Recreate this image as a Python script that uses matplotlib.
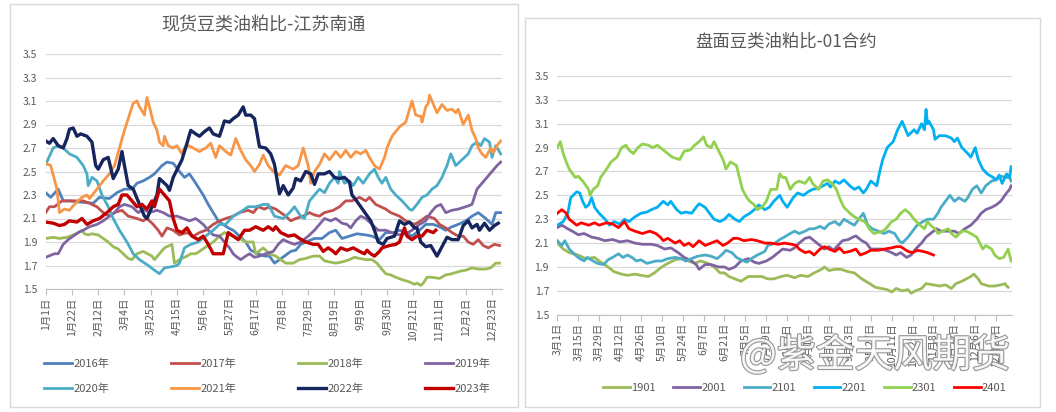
import matplotlib
matplotlib.use('Agg')
import matplotlib.pyplot as plt
import matplotlib.patheffects as pe
from matplotlib.patches import Rectangle
import pandas as pd

plt.rcParams['font.family'] = ['Noto Sans CJK SC', 'DejaVu Sans']

# ---- left chart: spot ratio, x = day of year (from 1 Jan) ----
left_title = "现货豆类油粕比-江苏南通"
left_names = ["2016年", "2017年", "2018年", "2019年", "2020年", "2021年", "2022年", "2023年"]
left_colors = ["#4F81BD", "#C0504D", "#9BBB59", "#8064A2", "#4BACC6", "#F79646", "#17255E", "#C00000"]

y2016 = [(0,2.32),(4,2.28),(10,2.35),(14,2.25),(19,2.25),(27,2.24),(38,2.23),(43,2.28),(51,2.27),(57,2.32),(63,2.35),(69,2.35),(73,2.40),(78,2.42),(83,2.45),(87,2.48),(93,2.55),(97,2.58),(102,2.57),(107,2.50),(111,2.45),(115,2.48),(120,2.40),(126,2.30),(130,2.22),(134,2.15),(138,2.08),(142,2.05),(146,2.02),(150,2.00),(155,1.95),(160,1.90),(164,1.83),(170,1.80),(175,1.78),(179,1.78),(183,1.72),(187,1.75),(191,1.78),(196,1.82),(200,1.83),(204,1.88),(208,1.90),(215,1.93),(221,1.93),(227,1.98),(232,2.00),(237,1.93),(243,1.95),(249,1.97),(256,1.96),(261,1.95),(267,1.92),(272,1.98),(279,1.98),(283,2.00),(288,1.98),(293,1.95),(299,2.00),(304,2.05),(310,2.05),(315,2.03),(320,2.00),(325,2.03),(330,2.05),(336,2.08),(341,2.12),(346,2.15),(352,2.10),(357,2.05),(360,2.15),(364,2.15)]
y2017 = [(0,2.15),(3,2.20),(7,2.20),(13,2.25),(22,2.25),(30,2.25),(35,2.23),(41,2.20),(46,2.15),(51,2.12),(55,2.15),(61,2.17),(66,2.12),(73,2.10),(78,2.08),(81,2.10),(86,2.05),(90,2.00),(93,1.95),(97,2.02),(102,2.00),(107,1.96),(113,1.98),(118,1.95),(123,1.98),(128,2.00),(134,2.05),(139,2.08),(144,2.10),(150,2.12),(155,2.15),(162,2.17),(166,2.15),(170,2.20),(175,2.18),(179,2.20),(184,2.18),(188,2.15),(192,2.12),(196,2.08),(200,2.10),(206,2.12),(211,2.15),(215,2.13),(219,2.12),(223,2.15),(230,2.17),(235,2.20),(240,2.25),(245,2.25),(251,2.28),(256,2.25),(259,2.28),(264,2.22),(272,2.18),(276,2.15),(283,2.12),(288,2.08),(295,2.05),(300,2.08),(305,2.12),(311,2.10),(315,2.05),(320,2.02),(325,1.98),(330,1.95),(334,1.95),(338,1.90),(342,1.88),(346,1.92),(350,1.87),(354,1.85),(359,1.88),(363,1.87)]
y2018 = [(0,1.93),(6,1.94),(11,1.93),(17,1.94),(22,1.96),(26,1.98),(29,2.00),(31,1.97),(34,1.96),(37,1.97),(42,1.96),(46,1.93),(50,1.90),(54,1.86),(58,1.84),(62,1.80),(66,1.76),(69,1.75),(73,1.80),(78,1.82),(85,1.78),(87,1.75),(91,1.80),(95,1.85),(101,1.88),(103,1.72),(107,1.75),(113,1.78),(116,1.80),(120,1.80),(123,1.82),(127,1.85),(134,1.90),(139,1.95),(143,1.98),(150,1.95),(155,1.93),(160,1.90),(166,1.90),(168,1.80),(174,1.85),(179,1.80),(184,1.78),(188,1.75),(192,1.72),(198,1.72),(203,1.75),(208,1.76),(214,1.78),(219,1.78),(223,1.74),(227,1.73),(232,1.72),(237,1.73),(243,1.75),(247,1.77),(251,1.76),(256,1.75),(261,1.75),(265,1.72),(268,1.68),(272,1.63),(276,1.62),(280,1.60),(285,1.58),(291,1.56),(295,1.54),(297,1.55),(300,1.53),(302,1.55),(305,1.60),(309,1.60),(315,1.59),(320,1.62),(325,1.63),(331,1.65),(336,1.66),(341,1.68),(346,1.67),(352,1.67),(356,1.68),(360,1.72),(363,1.72)]
y2019 = [(0,1.77),(7,1.80),(10,1.80),(14,1.88),(18,1.92),(22,1.95),(26,1.98),(30,2.00),(35,2.03),(41,2.05),(46,2.08),(51,2.12),(55,2.15),(59,2.20),(63,2.22),(69,2.20),(74,2.15),(78,2.18),(83,2.15),(89,2.17),(94,2.15),(99,2.12),(105,2.12),(110,2.10),(115,2.08),(120,2.10),(126,2.05),(130,2.00),(134,1.96),(139,1.95),(143,1.90),(147,1.85),(150,1.80),(152,1.78),(156,1.75),(160,1.78),(163,1.80),(167,1.77),(171,1.78),(176,1.80),(182,1.82),(186,1.88),(190,1.92),(194,1.90),(199,1.88),(204,1.90),(210,1.95),(215,2.00),(219,2.05),(223,2.10),(228,2.08),(232,2.10),(237,2.06),(241,2.05),(244,2.02),(248,2.08),(252,2.12),(256,2.10),(261,2.05),(266,2.00),(272,2.00),(277,1.98),(283,1.96),(288,1.97),(293,2.00),(299,2.05),(304,2.08),(308,2.15),(312,2.20),(316,2.22),(320,2.15),(325,2.17),(330,2.18),(336,2.20),(341,2.22),(345,2.35),(349,2.40),(353,2.45),(357,2.50),(361,2.55),(364,2.58)]
y2020 = [(0,2.56),(6,2.70),(10,2.72),(14,2.70),(19,2.65),(25,2.62),(30,2.55),(33,2.48),(34,2.38),(37,2.45),(41,2.42),(45,2.30),(50,2.20),(54,2.10),(59,2.00),(65,1.90),(70,1.80),(75,1.75),(82,1.70),(87,1.66),(91,1.63),(95,1.68),(101,1.69),(105,1.70),(107,1.72),(111,1.85),(116,1.88),(122,1.90),(128,1.95),(134,2.00),(139,2.05),(144,2.05),(150,2.12),(155,2.15),(162,2.20),(168,2.20),(174,2.22),(178,2.22),(183,2.12),(190,2.10),(195,2.15),(199,2.20),(204,2.12),(207,2.10),(211,2.25),(215,2.30),(219,2.35),(223,2.32),(227,2.40),(231,2.45),(234,2.40),(235,2.50),(239,2.40),(243,2.42),(246,2.38),(250,2.45),(254,2.40),(259,2.48),(263,2.52),(266,2.45),(269,2.40),(272,2.45),(276,2.35),(280,2.30),(285,2.25),(291,2.18),(293,2.17),(297,2.22),(301,2.28),(305,2.30),(309,2.35),(313,2.38),(317,2.45),(321,2.55),(324,2.65),(328,2.55),(333,2.60),(338,2.65),(341,2.72),(345,2.75),(348,2.72),(351,2.78),(355,2.75),(357,2.62),(360,2.72),(364,2.65)]
y2021 = [(0,2.57),(4,2.55),(9,2.35),(11,2.15),(15,2.18),(19,2.17),(23,2.22),(29,2.28),(33,2.30),(35,2.27),(41,2.35),(46,2.42),(51,2.48),(55,2.55),(59,2.70),(63,2.85),(66,2.95),(70,3.08),(73,3.10),(75,3.05),(78,3.00),(79,2.98),(81,3.13),(83,3.05),(86,2.92),(89,2.85),(91,2.75),(94,2.72),(95,2.80),(98,2.72),(102,2.70),(105,2.72),(109,2.65),(111,2.70),(114,2.72),(118,2.70),(123,2.67),(128,2.70),(132,2.74),(136,2.62),(139,2.72),(144,2.67),(148,2.64),(152,2.78),(156,2.68),(160,2.60),(164,2.55),(167,2.50),(171,2.56),(174,2.64),(178,2.55),(182,2.50),(187,2.47),(192,2.55),(198,2.52),(202,2.55),(206,2.70),(210,2.55),(212,2.40),(215,2.50),(219,2.56),(223,2.65),(227,2.60),(232,2.67),(236,2.62),(240,2.68),(244,2.62),(248,2.67),(252,2.65),(256,2.68),(259,2.62),(263,2.55),(267,2.52),(271,2.62),(273,2.70),(277,2.80),(283,2.88),(288,2.92),(293,3.10),(296,2.98),(300,2.97),(301,2.92),(304,3.05),(306,3.08),(307,3.15),(311,3.05),(313,3.00),(317,3.07),(321,3.02),(325,3.03),(328,3.00),(330,3.03),(334,2.90),(338,2.98),(341,2.85),(344,2.78),(346,2.70),(349,2.65),(352,2.62),(356,2.70),(358,2.66),(361,2.72),(364,2.76)]
y2022 = [(0,2.76),(3,2.74),(6,2.78),(10,2.72),(14,2.70),(17,2.78),(19,2.86),(22,2.87),(25,2.80),(28,2.82),(33,2.80),(37,2.75),(40,2.55),(42,2.52),(46,2.60),(50,2.62),(54,2.44),(58,2.52),(61,2.67),(63,2.55),(66,2.38),(70,2.35),(75,2.22),(79,2.12),(81,2.10),(85,2.20),(89,2.30),(91,2.44),(97,2.38),(99,2.34),(102,2.45),(109,2.60),(113,2.74),(116,2.85),(120,2.82),(123,2.80),(127,2.84),(131,2.87),(134,2.82),(139,2.80),(143,2.93),(147,2.92),(150,2.95),(154,2.98),(158,3.05),(160,2.98),(164,2.98),(167,2.95),(171,2.71),(176,2.70),(180,2.65),(183,2.56),(187,2.31),(190,2.38),(194,2.30),(198,2.36),(200,2.44),(204,2.42),(208,2.50),(212,2.48),(215,2.39),(218,2.48),(223,2.48),(227,2.50),(231,2.45),(235,2.44),(239,2.45),(243,2.41),(245,2.30),(248,2.26),(252,2.20),(256,2.14),(260,2.08),(263,2.00),(266,1.90),(270,1.88),(273,1.93),(279,1.95),(283,2.08),(287,2.05),(291,2.07),(295,2.02),(297,2.02),(300,1.90),(304,1.86),(308,1.87),(313,1.78),(317,1.86),(321,1.94),(325,1.92),(330,1.92),(334,2.04),(338,2.08),(341,2.02),(345,2.05),(347,2.00),(351,2.06),(355,2.00),(359,2.04),(362,2.06)]
y2023 = [(0,2.07),(6,2.06),(11,2.04),(15,2.05),(19,2.08),(25,2.07),(29,2.10),(33,2.05),(38,2.08),(43,2.10),(49,2.15),(54,2.20),(58,2.22),(61,2.30),(65,2.30),(69,2.25),(73,2.20),(77,2.22),(81,2.18),(85,2.25),(87,2.20),(91,2.35),(95,2.30),(99,2.25),(102,2.10),(105,2.00),(109,1.98),(113,2.02),(117,1.95),(122,1.92),(126,1.95),(130,1.88),(134,1.80),(139,1.80),(142,1.80),(146,1.98),(150,1.95),(154,1.92),(159,2.00),(163,2.00),(168,2.03),(174,2.00),(178,2.03),(182,2.00),(184,2.03),(188,1.98),(194,1.95),(199,1.96),(203,1.93),(208,1.90),(214,1.88),(218,1.88),(222,1.82),(226,1.85),(230,1.82),(232,1.80),(236,1.85),(241,1.83),(246,1.85),(251,1.82),(255,1.80),(257,1.83),(260,1.80),(263,1.78),(267,1.82),(269,1.85),(275,1.87),(280,1.88),(283,1.90),(287,2.02),(289,1.95),(293,1.92),(297,1.95),(301,1.95),(305,2.00),(310,1.98),(312,2.00)]
left_series = [y2016, y2017, y2018, y2019, y2020, y2021, y2022, y2023]
left_widths = [2.0, 2.0, 2.0, 2.0, 2.0, 2.0, 2.4, 2.4]

# ---- right chart: futures ratio, 01 contracts, x = days from 1 Mar ----
right_title = "盘面豆类油粕比-01合约"
right_names = ["1901", "2001", "2101", "2201", "2301", "2401"]
right_colors = ["#9BBB59", "#8064A2", "#4BACC6", "#00B0F0", "#92D050", "#FF0000"]

c1901 = [(0,2.10),(4,2.05),(8,2.02),(14,2.00),(19,1.97),(25,1.98),(28,1.95),(34,1.90),(38,1.86),(43,1.84),(47,1.83),(52,1.84),(56,1.83),(61,1.82),(65,1.85),(70,1.90),(74,1.93),(79,1.96),(83,1.97),(88,1.95),(92,1.93),(96,1.95),(101,1.93),(105,1.90),(109,1.85),(112,1.85),(115,1.82),(119,1.80),(123,1.78),(128,1.82),(132,1.82),(137,1.82),(141,1.80),(145,1.80),(150,1.82),(154,1.83),(159,1.81),(163,1.83),(168,1.82),(172,1.85),(177,1.88),(179,1.90),(182,1.87),(186,1.88),(190,1.88),(195,1.86),(199,1.85),(204,1.80),(208,1.77),(213,1.73),(217,1.72),(221,1.71),(224,1.69),(227,1.72),(231,1.70),(235,1.71),(237,1.68),(240,1.70),(244,1.72),(247,1.76),(252,1.75),(256,1.74),(260,1.75),(264,1.72),(267,1.76),(271,1.78),(274,1.80),(277,1.82),(279,1.84),(282,1.80),(284,1.76),(289,1.74),(293,1.74),(297,1.75),(300,1.76),(301,1.74),(302,1.73)]
c2001 = [(0,2.23),(3,2.25),(7,2.22),(10,2.20),(14,2.17),(18,2.18),(23,2.15),(27,2.14),(32,2.12),(37,2.13),(42,2.11),(47,2.12),(52,2.10),(57,2.09),(63,2.09),(67,2.08),(72,2.05),(76,2.06),(81,2.02),(85,1.98),(90,1.95),(93,1.92),(95,1.88),(99,1.92),(103,1.92),(108,1.90),(112,1.90),(115,1.88),(119,1.90),(123,1.95),(128,1.97),(132,1.94),(135,1.93),(140,1.95),(144,1.98),(148,2.02),(151,2.05),(156,2.04),(159,2.06),(162,2.10),(166,2.14),(169,2.15),(172,2.12),(176,2.08),(179,2.05),(182,2.07),(185,2.04),(188,2.08),(191,2.12),(195,2.13),(198,2.15),(200,2.16),(204,2.12),(207,2.10),(210,2.05),(214,2.05),(217,2.05),(220,2.04),(224,2.02),(227,2.00),(230,2.02),(234,1.98),(237,2.00),(240,2.05),(244,2.10),(247,2.15),(250,2.18),(254,2.22),(257,2.20),(261,2.20),(266,2.20),(269,2.18),(273,2.22),(277,2.25),(281,2.30),(284,2.35),(287,2.38),(291,2.40),(294,2.42),(297,2.45),(301,2.52),(303,2.55),(304,2.58)]
c2101 = [(0,2.12),(3,2.08),(5,2.12),(8,2.05),(12,2.00),(15,1.97),(18,1.95),(20,1.98),(24,1.95),(27,1.93),(31,1.92),(34,1.96),(37,1.98),(41,2.01),(44,1.98),(47,2.00),(50,1.98),(53,1.95),(56,1.96),(60,1.93),(63,1.94),(66,1.95),(70,1.95),(74,1.97),(79,1.98),(83,1.97),(86,1.95),(90,1.97),(94,1.99),(99,2.00),(103,1.99),(107,1.97),(110,2.00),(113,2.04),(117,2.02),(120,1.98),(123,1.96),(127,1.94),(130,1.97),(134,2.00),(139,2.03),(141,2.08),(146,2.10),(149,2.13),(152,2.15),(156,2.18),(159,2.20),(162,2.18),(166,2.20),(169,2.22),(172,2.22),(176,2.24),(179,2.22),(182,2.26),(186,2.28),(189,2.25),(192,2.30),(196,2.27),(199,2.25),(202,2.30),(205,2.35),(208,2.25),(211,2.22),(215,2.20),(219,2.18),(222,2.20),(226,2.18),(229,2.12),(231,2.10),(235,2.15),(238,2.20),(241,2.25),(245,2.28),(248,2.30),(252,2.30),(255,2.35),(257,2.40),(260,2.45),(263,2.50),(266,2.45),(269,2.48),(273,2.45),(275,2.48),(278,2.55),(281,2.58),(284,2.52),(287,2.58),(291,2.62),(294,2.63),(297,2.66),(301,2.65),(303,2.65),(304,2.62)]
c2201 = [(0,2.25),(4,2.28),(7,2.35),(9,2.48),(13,2.53),(15,2.52),(17,2.45),(19,2.40),(21,2.42),(23,2.48),(25,2.40),(28,2.35),(32,2.30),(35,2.25),(38,2.28),(42,2.26),(45,2.30),(48,2.28),(52,2.32),(56,2.35),(60,2.36),(63,2.38),(67,2.40),(71,2.45),(74,2.42),(76,2.45),(80,2.38),(83,2.35),(86,2.36),(90,2.35),(93,2.40),(95,2.43),(99,2.40),(102,2.35),(105,2.30),(109,2.28),(112,2.30),(115,2.34),(119,2.30),(122,2.28),(125,2.32),(129,2.35),(132,2.38),(135,2.42),(139,2.38),(142,2.40),(145,2.45),(149,2.50),(151,2.45),(154,2.40),(158,2.48),(161,2.52),(165,2.50),(168,2.53),(171,2.55),(175,2.56),(178,2.58),(181,2.60),(183,2.57),(186,2.62),(189,2.60),(192,2.63),(196,2.58),(199,2.55),(202,2.57),(205,2.52),(207,2.55),(210,2.62),(214,2.58),(216,2.70),(218,2.80),(221,2.90),(225,2.95),(228,3.05),(231,3.12),(235,3.00),(239,3.05),(241,3.02),(244,3.10),(246,3.05),(247,3.22),(248,3.10),(249,3.12),(252,3.05),(253,2.97),(256,3.00),(260,3.00),(264,2.98),(266,2.95),(268,2.98),(271,2.90),(275,2.85),(277,2.82),(280,2.90),(282,2.80),(285,2.72),(288,2.68),(292,2.65),(294,2.63),(296,2.67),(298,2.60),(301,2.68),(303,2.65),(304,2.74)]
c2301 = [(0,2.90),(2,2.95),(4,2.85),(6,2.78),(8,2.72),(12,2.65),(14,2.66),(17,2.62),(21,2.55),(22,2.50),(24,2.55),(27,2.58),(29,2.65),(33,2.72),(36,2.78),(40,2.82),(43,2.90),(46,2.92),(48,2.88),(51,2.85),(54,2.90),(57,2.93),(61,2.92),(64,2.90),(67,2.92),(71,2.88),(74,2.85),(77,2.82),(82,2.80),(85,2.87),(89,2.88),(92,2.92),(95,2.95),(98,2.99),(100,2.92),(103,2.90),(105,2.95),(109,2.85),(111,2.80),(113,2.72),(116,2.78),(120,2.75),(122,2.65),(124,2.55),(127,2.48),(129,2.45),(132,2.42),(134,2.38),(137,2.40),(140,2.45),(143,2.55),(147,2.55),(149,2.68),(151,2.65),(153,2.65),(156,2.55),(159,2.60),(162,2.62),(166,2.60),(169,2.65),(171,2.60),(175,2.55),(178,2.62),(181,2.63),(184,2.60),(187,2.55),(189,2.48),(192,2.40),(196,2.35),(199,2.32),(202,2.30),(206,2.28),(209,2.22),(212,2.18),(218,2.20),(220,2.22),(224,2.28),(227,2.30),(230,2.35),(233,2.38),(236,2.35),(239,2.30),(243,2.25),(246,2.22),(248,2.28),(250,2.25),(253,2.22),(255,2.18),(258,2.20),(262,2.22),(264,2.18),(267,2.15),(271,2.20),(274,2.20),(277,2.18),(281,2.15),(283,2.10),(285,2.05),(287,2.08),(291,2.05),(293,2.00),(296,1.97),(299,1.98),(302,2.05),(304,1.95)]
c2401 = [(0,2.35),(3,2.38),(6,2.35),(8,2.30),(13,2.25),(16,2.27),(21,2.25),(25,2.27),(28,2.25),(33,2.27),(37,2.26),(41,2.23),(45,2.28),(48,2.22),(52,2.20),(57,2.18),(62,2.20),(66,2.18),(69,2.15),(71,2.12),(74,2.14),(79,2.10),(82,2.12),(85,2.08),(88,2.10),(91,2.07),(95,2.12),(99,2.08),(103,2.10),(107,2.12),(111,2.08),(114,2.10),(118,2.14),(121,2.14),(125,2.12),(130,2.13),(134,2.12),(139,2.10),(143,2.10),(148,2.09),(152,2.10),(157,2.09),(160,2.08),(162,2.05),(166,2.02),(169,2.03),(172,2.00),(176,2.05),(179,2.07),(182,2.05),(186,2.03),(189,2.06),(192,2.02),(196,2.03),(200,2.05),(203,2.00),(207,2.02),(210,2.04),(215,2.04),(219,2.05),(224,2.06),(227,2.07),(230,2.07),(235,2.03),(238,2.02),(241,2.04),(245,2.03),(248,2.02),(252,2.00)]
right_series = [c1901, c2001, c2101, c2201, c2301, c2401]

y_ticks = [1.5, 1.7, 1.9, 2.1, 2.3, 2.5, 2.7, 2.9, 3.1, 3.3, 3.5]
left_dates = pd.date_range("2016-01-01", "2016-12-31", freq="21D")
right_dates = pd.date_range("2023-03-01", "2023-12-20", freq="14D")

TXT = "#595959"
GRID = "#D9D9D9"


def style_axis(ax, xmax, dates, start):
    ax.set_ylim(1.5, 3.5)
    ax.set_xlim(0, xmax)
    ax.set_yticks(y_ticks)
    ax.set_yticklabels([f"{v:.1f}" for v in y_ticks])
    ax.yaxis.grid(True, color=GRID, linewidth=0.9)
    ax.set_axisbelow(True)
    for s in ["top", "right", "left"]:
        ax.spines[s].set_visible(False)
    ax.spines["bottom"].set_color("#BFBFBF")
    ax.spines["bottom"].set_zorder(0.5)
    ticks = [(d - start).days for d in dates]
    ax.set_xticks(ticks)
    ax.set_xticklabels([f"{d.month}月{d.day}日" for d in dates], rotation=90)
    ax.tick_params(axis="x", length=4, color="#BFBFBF", labelsize=7.5, labelcolor=TXT, pad=2)
    ax.tick_params(axis="y", length=0, labelsize=7.5, labelcolor=TXT, pad=6)


fig = plt.figure(figsize=(10.56, 4.12), dpi=100)

# panel borders
fig.add_artist(Rectangle((10 / 1056, 5 / 412), 508 / 1056, 403 / 412, transform=fig.transFigure,
                         fill=False, edgecolor=GRID, linewidth=1))
fig.add_artist(Rectangle((525 / 1056, 5 / 412), 515 / 1056, 389 / 412, transform=fig.transFigure,
                         fill=False, edgecolor=GRID, linewidth=1))

ax1 = fig.add_axes([45.7 / 1056, 123 / 412, 456.3 / 1056, 235 / 412])
lines1 = []
for pts, name, col, lw in zip(left_series, left_names, left_colors, left_widths):
    d, v = zip(*pts)
    ln, = ax1.plot(d, v, color=col, linewidth=lw, label=name, solid_joinstyle="round")
    lines1.append(ln)
style_axis(ax1, 365, left_dates, pd.Timestamp("2016-01-01"))
fig.text(263 / 1056, 1 - 25 / 412, left_title, ha="center", va="center", fontsize=13, color=TXT)

# legend rows read left to right
order = [0, 4, 1, 5, 2, 6, 3, 7]
fig.legend([lines1[i] for i in order], [left_names[i] for i in order], ncol=4,
           loc="upper left", bbox_to_anchor=(42 / 1056, 1 - 356 / 412), frameon=False,
           fontsize=8, labelcolor=TXT, handlelength=2.5, handletextpad=0.1,
           columnspacing=5.6, borderaxespad=0, borderpad=0.2, labelspacing=1.35)

ax2 = fig.add_axes([557.3 / 1056, 97.3 / 412, 454.7 / 1056, 238.7 / 412])
lines2 = []
for pts, name, col in zip(right_series, right_names, right_colors):
    d, v = zip(*pts)
    ln, = ax2.plot(d, v, color=col, linewidth=2.0, label=name, solid_joinstyle="round")
    lines2.append(ln)
style_axis(ax2, 304.6, right_dates, pd.Timestamp("2023-03-01"))
fig.text(786 / 1056, 1 - 42 / 412, right_title, ha="center", va="center", fontsize=12.5, color=TXT)

fig.legend(lines2, right_names, ncol=6, loc="center left", bbox_to_anchor=(601 / 1056, 1 - 388 / 412),
           frameon=False, fontsize=8, labelcolor=TXT, handlelength=2.4, handletextpad=0.1,
           columnspacing=1.6, borderaxespad=0, borderpad=0.2)

# watermark
fig.text(875 / 1056, 1 - 356 / 412, "@紫金天风期货", ha="center", va="center", fontsize=28,
         color="white", alpha=0.9, zorder=10,
         path_effects=[pe.withStroke(linewidth=1.6, foreground="#8C8C8C")])

fig.savefig("out.png", dpi=100)
plt.close()
